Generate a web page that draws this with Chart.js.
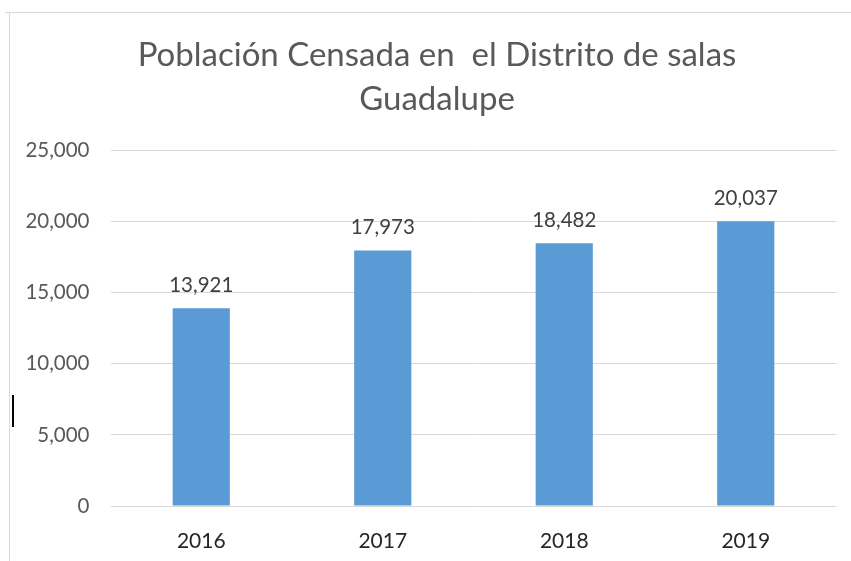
<!DOCTYPE html>
<html>
<head>
<meta charset="utf-8">
<script src="https://cdn.jsdelivr.net/npm/chart.js@4.4.1/dist/chart.umd.min.js"></script>
<style>
  html, body { margin: 0; padding: 0; background: #ffffff; }
  #wrap { position: relative; width: 851px; height: 561px; overflow: hidden; background: #fff; }
  #frameTop { position: absolute; left: 5px; top: 12px; right: 0; height: 0; border-top: 1px solid #d9d9d9; }
  #frameLeft { position: absolute; left: 9px; top: 12px; bottom: 0; width: 0; border-left: 1px solid #d9d9d9; }
  #cursor { position: absolute; left: 12px; top: 395px; width: 1.5px; height: 32px; background: #000; }
  canvas { position: absolute; left: 0; top: 0; }
</style>
</head>
<body>
<div id="wrap">
  <div id="frameTop"></div>
  <div id="frameLeft"></div>
  <div id="cursor"></div>
  <canvas id="c" width="851" height="561"></canvas>
</div>
<script>
const categories = ['2016', '2017', '2018', '2019'];
const poblacion = [13921, 17973, 18482, 20037];
const yTicks = [0, 5000, 10000, 15000, 20000, 25000];
const titleLines = ['Población Censada en  el Distrito de salas', 'Guadalupe'];

const FONT = 'Lato, "Open Sans", sans-serif';

// Chart title, centred as in the reference
const titlePlugin = {
  id: 'titleText',
  afterDraw(chart) {
    const ctx = chart.ctx;
    ctx.save();
    ctx.font = '33px ' + FONT;
    ctx.fillStyle = '#595959';
    ctx.textAlign = 'center';
    ctx.textBaseline = 'middle';
    titleLines.forEach((line, i) => ctx.fillText(line, 437, 55 + i * 44));
    ctx.restore();
  }
};

const valueLabels = {
  id: 'valueLabels',
  afterDatasetsDraw(chart) {
    const ctx = chart.ctx;
    const meta = chart.getDatasetMeta(0);
    ctx.save();
    ctx.font = '20.5px ' + FONT;
    ctx.fillStyle = '#404040';
    ctx.textAlign = 'center';
    ctx.textBaseline = 'middle';
    meta.data.forEach((bar, i) => {
      const v = chart.data.datasets[0].data[i];
      ctx.fillText(v.toLocaleString('en-US'), bar.x, bar.y - 23);
    });
    ctx.restore();
  }
};

new Chart(document.getElementById('c'), {
  type: 'bar',
  data: {
    labels: categories,
    datasets: [{
      data: poblacion,
      backgroundColor: '#5b9bd5',
      borderWidth: 0,
      barPercentage: 0.315,
      categoryPercentage: 1.0
    }]
  },
  options: {
    responsive: false,
    animation: false,
    devicePixelRatio: 1,
    layout: { padding: { left: 10, right: 14.5, top: 150.7, bottom: 0 } },
    plugins: {
      legend: { display: false },
      tooltip: { enabled: false },
      title: { display: false }
    },
    scales: {
      x: {
        afterFit(scale) { scale.height = 55; },
        grid: { display: false },
        border: { display: false },
        ticks: {
          color: '#262626',
          font: { family: FONT, size: 21 },
          padding: 14.5,
          maxRotation: 0
        }
      },
      y: {
        min: 0,
        max: 25000,
        afterBuildTicks(scale) {
          scale.ticks = yTicks.map(v => ({ value: v }));
        },
        afterFit(scale) { scale.width = 100.5; },
        grid: { color: '#d9d9d9', lineWidth: 1, drawTicks: false },
        border: { display: false },
        ticks: {
          color: '#595959',
          font: { family: FONT, size: 20.5 },
          padding: 21,
          callback: v => Number(v).toLocaleString('en-US')
        }
      }
    }
  },
  plugins: [valueLabels, titlePlugin]
});
</script>
</body>
</html>
